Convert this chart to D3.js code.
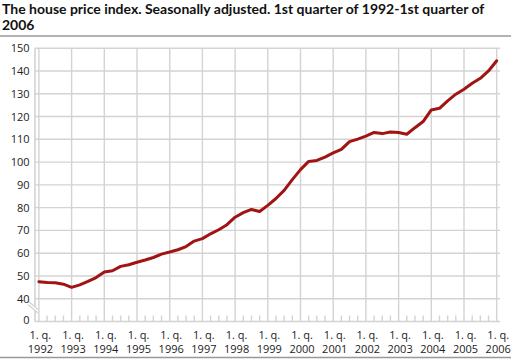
<!DOCTYPE html>
<html><head><meta charset="utf-8">
<script src="https://cdn.jsdelivr.net/npm/d3@7"></script>
<style>body{margin:0;background:#fff}svg{display:block}</style>
</head><body>
<svg id="c" width="511" height="360"></svg>
<script>
const titleLines = ["The house price index. Seasonally adjusted. 1st quarter of 1992-1st quarter of", "2006"];
const yearLabels = ["1992","1993","1994","1995","1996","1997","1998","1999","2000","2001","2002","2003","2004","2005","2006"];
const quarterLabel = "1. q.";
const yTicks = [40,50,60,70,80,90,100,110,120,130,140,150];
const breakLabel = "0";
const priceIndex = [
 47.5, 47.1, 47.0, 46.4,
 45.0, 46.1, 47.6, 49.3,
 51.7, 52.3, 54.2, 54.9,
 56.0, 57.0, 58.1, 59.6,
 60.5, 61.5, 62.9, 65.3,
 66.4, 68.5, 70.3, 72.5,
 75.8, 77.8, 79.2, 78.3,
 81.0, 84.0, 87.6, 92.3,
 96.7, 100.3, 100.7, 102.2,
 104.0, 105.6, 109.0, 110.1,
 111.4, 113.0, 112.5, 113.2,
 113.0, 112.2, 115.1, 117.8,
 122.9, 123.6, 126.9, 129.8,
 132.0, 134.6, 136.8, 140.0,
 144.5
];

const svg = d3.select("#c");
const font = "'Open Sans', sans-serif";
const grid = "#d3d3d3";

// title
const tt = svg.append("text").attr("font-family", "Lato, 'Open Sans', sans-serif").attr("font-weight", "bold")
  .attr("font-size", 14).attr("fill", "#111");
tt.selectAll("tspan").data(titleLines).join("tspan")
  .attr("x", 2).attr("y", (d, i) => 14 + i * 16).text(d => d);
// fit first line to ~490px
const first = tt.select("tspan").node();
const w = first.getComputedTextLength();
if (w > 0) tt.attr("font-size", Math.min(14, 14 * 490 / w));

svg.append("line").attr("x1", 0).attr("x2", 511).attr("y1", 36).attr("y2", 36)
  .attr("stroke", "#999").attr("stroke-width", 1.5);
svg.append("line").attr("x1", 0).attr("x2", 511).attr("y1", 357.5).attr("y2", 357.5)
  .attr("stroke", "#999").attr("stroke-width", 1.5);

const x = d3.scaleLinear().domain([0, priceIndex.length - 1]).range([38.9, 496.7]);
const y = d3.scaleLinear().domain([30, 150]).range([321.5, 48.2]);
const left = 35, right = 500;

// horizontal gridlines
svg.append("g").selectAll("line").data(yTicks).join("line")
  .attr("x1", left).attr("x2", right)
  .attr("y1", d => y(d)).attr("y2", d => y(d))
  .attr("stroke", grid).attr("stroke-width", 1.4);
// vertical year gridlines
svg.append("g").selectAll("line").data(yearLabels).join("line")
  .attr("x1", (d, i) => x(i * 4)).attr("x2", (d, i) => x(i * 4))
  .attr("y1", y(150)).attr("y2", y(30))
  .attr("stroke", grid).attr("stroke-width", 1.4);
// minor quarter ticks
const qIdx = d3.range(priceIndex.length).filter(i => i % 4 !== 0);
svg.append("g").selectAll("line").data(qIdx).join("line")
  .attr("x1", d => x(d)).attr("x2", d => x(d))
  .attr("y1", y(30) - 6).attr("y2", y(30))
  .attr("stroke", grid).attr("stroke-width", 1.4);
// axis lines
svg.append("line").attr("x1", left).attr("x2", right).attr("y1", y(30)).attr("y2", y(30))
  .attr("stroke", grid).attr("stroke-width", 1.6);
svg.append("line").attr("x1", left).attr("x2", left).attr("y1", y(150)).attr("y2", y(30))
  .attr("stroke", grid).attr("stroke-width", 1.6);
// axis break
svg.append("polygon").attr("points", "28,301 38,309 38,313 28,305").attr("fill", "#fff");
svg.append("line").attr("x1", 28).attr("y1", 301).attr("x2", 38).attr("y2", 309.5).attr("stroke", grid).attr("stroke-width", 1.3);
svg.append("line").attr("x1", 28).attr("y1", 304.5).attr("x2", 38).attr("y2", 313).attr("stroke", grid).attr("stroke-width", 1.3);

// y labels
const yl = svg.append("g").attr("font-family", font).attr("font-size", 11).attr("fill", "#222")
  .attr("text-anchor", "end");
yl.selectAll("text").data(yTicks).join("text")
  .attr("x", 29.5).attr("y", d => y(d) + 4).text(d => d);
yl.append("text").attr("x", 29.5).attr("y", y(30) + 2).text(breakLabel);

// x labels
const xl = svg.append("g").attr("font-family", font).attr("font-size", 11).attr("fill", "#222")
  .attr("text-anchor", "middle");
const g = xl.selectAll("g").data(yearLabels).join("g")
  .attr("transform", (d, i) => `translate(${x(i * 4) + 1.5},0)`);
g.append("text").attr("y", 339).text(quarterLabel);
g.append("text").attr("y", 353).text(d => d);

// line
svg.append("path").datum(priceIndex)
  .attr("d", d3.line().x((d, i) => x(i)).y(d => y(d)))
  .attr("fill", "none").attr("stroke", "#a01414").attr("stroke-width", 3)
  .attr("stroke-linejoin", "round").attr("stroke-linecap", "round");
</script>
</body></html>
